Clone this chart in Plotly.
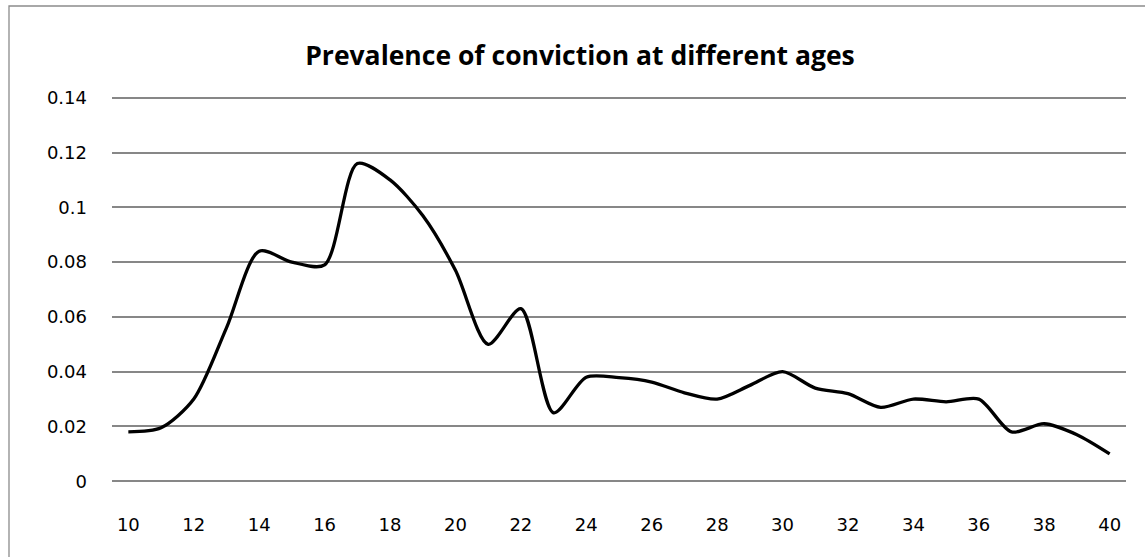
import plotly.graph_objects as go

ages = list(range(10, 41))
prevalence = [0.018, 0.0195, 0.030, 0.056, 0.084, 0.080, 0.079, 0.116, 0.110, 0.097,
              0.077, 0.050, 0.063, 0.025, 0.038, 0.0378, 0.0362, 0.0323, 0.030, 0.035,
              0.040, 0.034, 0.032, 0.027, 0.030, 0.029, 0.030, 0.018, 0.021, 0.017, 0.010]
x_ticks = list(range(10, 41, 2))
y_ticks = [0, 0.02, 0.04, 0.06, 0.08, 0.1, 0.12, 0.14]
y_labels = ["0", "0.02", "0.04", "0.06", "0.08", "0.1", "0.12", "0.14"]
title = "Prevalence of conviction at different ages"

W, H = 1145, 557
L, R, T, B = 112, 19, 95, 73

fig = go.Figure()
fig.add_trace(go.Scatter(
    x=ages, y=prevalence, mode="lines",
    line=dict(color="black", width=3.3, shape="spline", smoothing=0.8),
    showlegend=False, hoverinfo="x+y",
))

pw = W - L - R
ph = H - T - B
fig.add_shape(type="rect", xref="paper", yref="paper",
              x0=(9 - L) / pw, x1=(1160 - L) / pw,
              y0=(H - B - 575) / ph, y1=(H - B - 6) / ph,
              line=dict(color="#8c8c8c", width=1.3), fillcolor="rgba(0,0,0,0)", layer="below")

fig.update_layout(
    width=W, height=H,
    margin=dict(l=L, r=R, t=T, b=B),
    paper_bgcolor="white", plot_bgcolor="white",
    title=dict(text="<b>" + title + "</b>", x=580 / W, xanchor="center",
               y=1 - 56 / H, yanchor="middle",
               font=dict(family="Open Sans, sans-serif", size=26.5, color="black")),
    xaxis=dict(range=[9.5, 40.5], tickvals=x_ticks, ticktext=[str(v) for v in x_ticks],
               showgrid=False, zeroline=False, showline=False, ticks="",
               ticklabelstandoff=28,
               tickfont=dict(family="DejaVu Sans, sans-serif", size=18, color="black")),
    yaxis=dict(range=[-0.001, 0.141], tickvals=y_ticks, ticktext=y_labels,
               showgrid=True, gridcolor="#878787", gridwidth=1.5,
               zeroline=False, showline=False, ticks="",
               ticklabelstandoff=24,
               tickfont=dict(family="DejaVu Sans, sans-serif", size=18, color="black")),
)

fig.write_html("out.html", config={"displayModeBar": False},
               post_script="document.body.style.margin='0';")
